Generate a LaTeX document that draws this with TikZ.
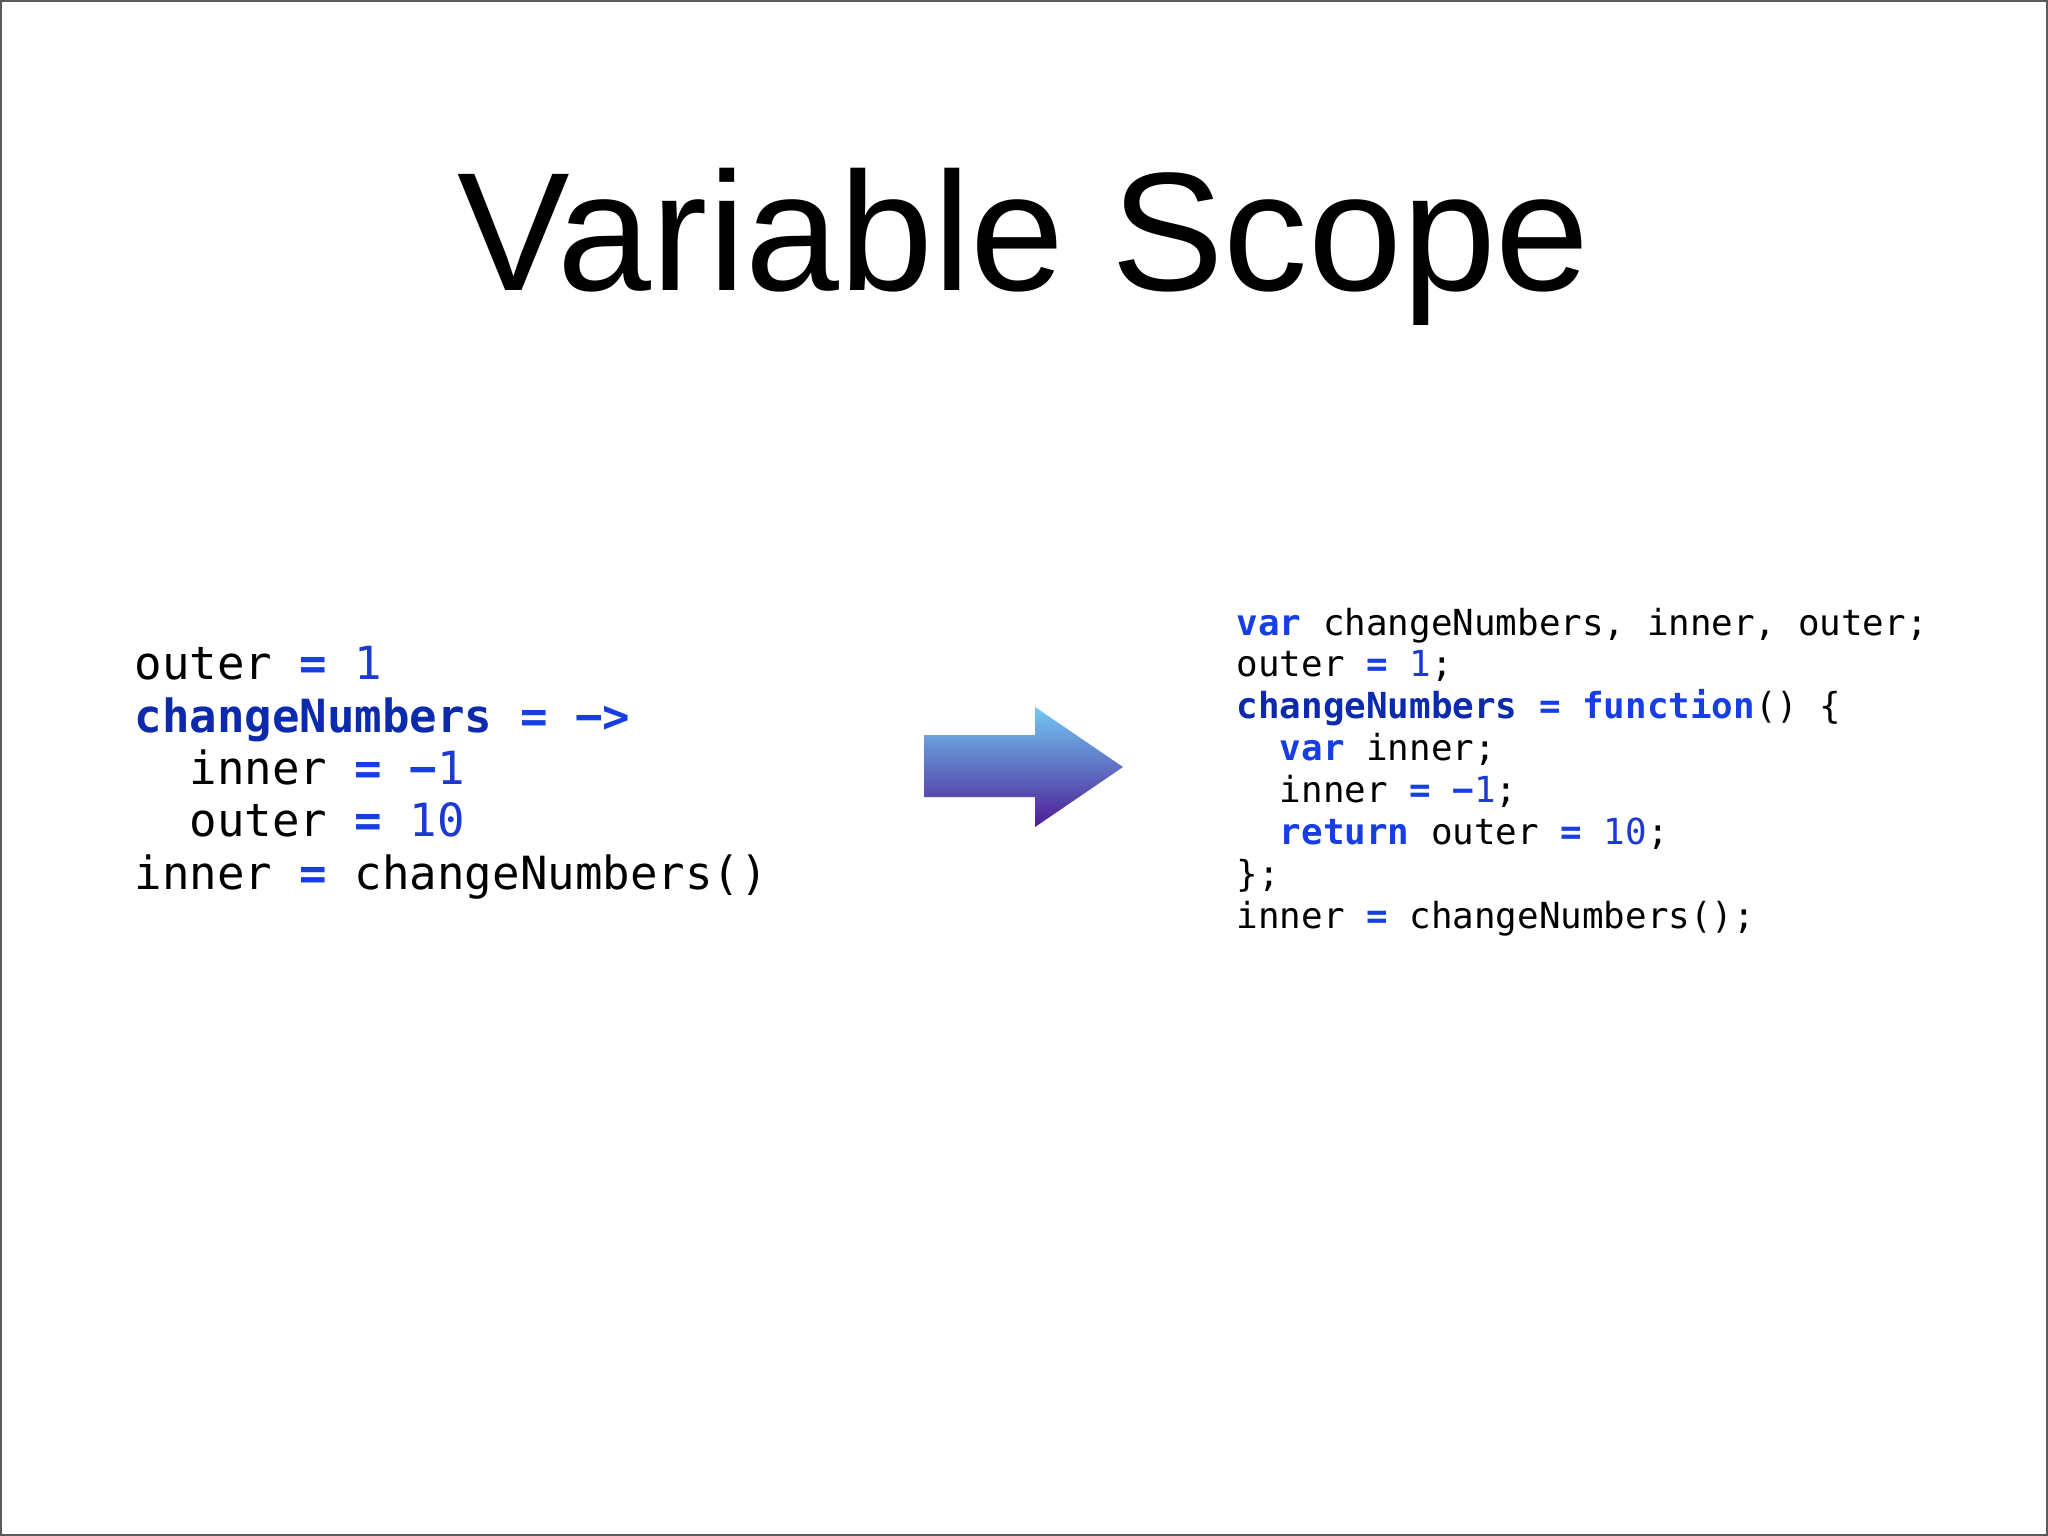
\documentclass[tikz,border=0pt]{standalone}
\usepackage{fontspec}
\setmainfont{Liberation Sans}
\setmonofont{DejaVu Sans Mono}
\usetikzlibrary{positioning}

\definecolor{kwblue}{RGB}{22,62,228}
\definecolor{fnblue}{RGB}{12,42,172}
\definecolor{numblue}{RGB}{28,58,208}
\definecolor{framegray}{RGB}{90,90,90}
\definecolor{arrowtop}{RGB}{114,200,242}
\definecolor{arrowmid}{RGB}{96,112,200}
\definecolor{arrowbot}{RGB}{78,28,150}

\newcommand{\kw}[1]{\textbf{\color{kwblue}#1}}
\newcommand{\fn}[1]{\textbf{\color{fnblue}#1}}
\newcommand{\nv}[1]{{\color{numblue}#1}}
\newcommand{\ind}{\phantom{00}}

\begin{document}
\begin{tikzpicture}[x=0.01cm,y=-0.01cm,
    code/.style={anchor=base west, align=left, inner sep=0pt},
    bigcode/.style={code, font=\ttfamily\fontsize{13}{14.86}\selectfont},
    smallcode/.style={code, font=\ttfamily\fontsize{10.2}{11.9}\selectfont}]
  \useasboundingbox (0,0) rectangle (2048,1536);
  \fill[white] (0,0) rectangle (2048,1536);
  \draw[framegray, line width=0.45pt] (1,1) rectangle (2047,1535);

  \coordinate (s1) at (924,735);
  \coordinate (s2) at (1035,735);
  \coordinate (h1) at (1035,707);
  \coordinate (tip) at (1123,767);
  \coordinate (h2) at (1035,827);
  \coordinate (s3) at (1035,797);
  \coordinate (s4) at (924,797);

  \node[anchor=base, inner sep=0pt, font=\fontsize{48}{56}\selectfont] (title) at (1024,290) {Variable Scope};

  % base of the last line
  \node[bigcode] (coffee) at (134,889) {outer \kw{=} \nv{1}\\
    \fn{changeNumbers} \kw{= −>}\\
    \ind inner \kw{=} \kw{−}\nv{1}\\
    \ind outer \kw{=} \nv{10}\\
    inner \kw{=} changeNumbers()};

  \shade[top color=arrowtop, middle color=arrowmid, bottom color=arrowbot]
    (s1) -- (s2) -- (h1) -- (tip) -- (h2) -- (s3) -- (s4) -- cycle;

  \node[smallcode] (js) at (1236,928) {\kw{var} changeNumbers, inner, outer;\\
    outer \kw{=} \nv{1};\\
    \fn{changeNumbers} \kw{=} \kw{function}() \{\\
    \ind\kw{var} inner;\\
    \ind inner \kw{=} \kw{−}\nv{1};\\
    \ind\kw{return} outer \kw{=} \nv{10};\\
    \};\\
    inner \kw{=} changeNumbers();};
\end{tikzpicture}
\end{document}
